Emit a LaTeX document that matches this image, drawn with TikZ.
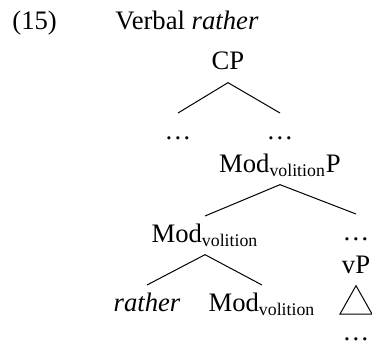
\documentclass[tikz,border=0pt]{standalone}
\usepackage{fontspec}
\setmainfont{Liberation Serif}
\usepackage{tikz}
\usetikzlibrary{calc}
\tikzset{
    cat/.style={anchor=base, inner sep=2.5pt, text height=9pt, text depth=3pt, font=\fontsize{12pt}{14.5pt}\selectfont},
    caption/.style={anchor=base west, inner sep=0pt, font=\fontsize{12pt}{14.5pt}\selectfont},
    branch/.style={draw=black, line width=0.45pt}
}

\begin{document}
\begin{tikzpicture}[x=0.45pt, y=-0.45pt]
    \useasboundingbox (0,0) rectangle (372,343);

    \node[caption] (num) at (12,30) {(15)};
    \node[caption] (title) at (115,30) {Verbal \textit{rather}};

    % top level
    \node[cat] (cp) at (228,70) {CP};
    \node[cat] (dotsl) at (178,139) {\dots};
    \node[cat] (dotsr) at (280,139) {\dots};
    \node[cat] (modp) at (280,172) {Mod\textsubscript{volition}P};

    % middle level
    \node[cat] (mod) at (205,242) {Mod\textsubscript{volition}};
    \node[cat] (dotsv) at (356,240) {\dots};
    \node[cat] (vp) at (356,273) {vP};

    % bottom level
    \node[cat] (rather) at (147,311) {\textit{rather}};
    \node[cat] (modhead) at (262,311) {Mod\textsubscript{volition}};
    \node[cat, text depth=0pt, inner sep=0pt, text height=11.5pt] (dotsb) at (356,340) {\dots};

    \draw[branch] (cp.south) -- (dotsl.north);
    \draw[branch] (cp.south) -- (dotsr.north);
    \draw[branch] (modp.south) -- (mod.north);
    \draw[branch] (modp.south) -- (dotsv.north);
    \draw[branch] (mod.south) -- (rather.north);
    \draw[branch] (mod.south) -- (modhead.north);

    % roof over vP
    \draw[branch] (vp.south) -- ($(dotsb.north)+(-16,0)$) -- ($(dotsb.north)+(16,0)$) -- cycle;
\end{tikzpicture}
\end{document}
